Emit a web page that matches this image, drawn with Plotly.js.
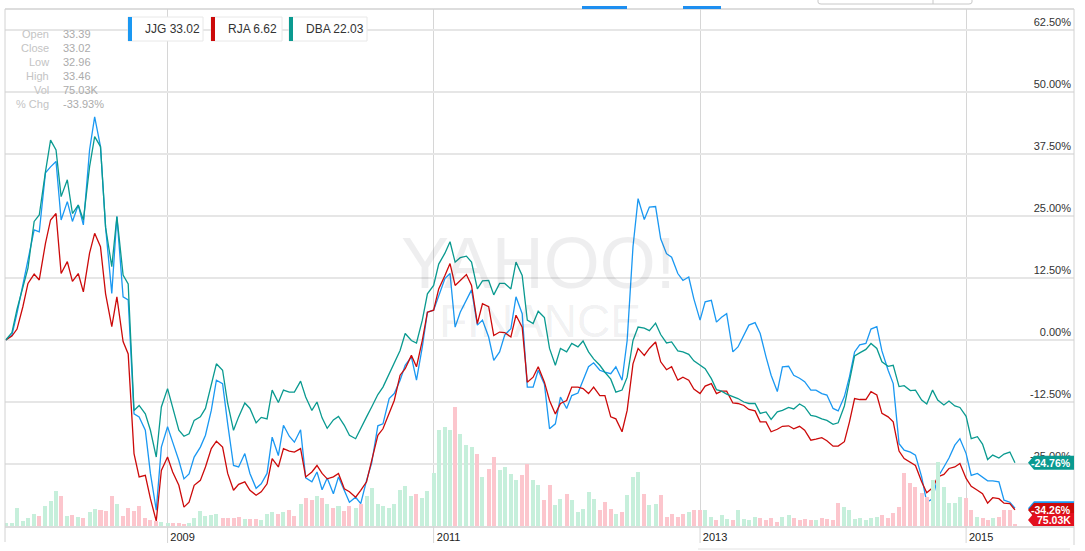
<!DOCTYPE html>
<html><head><meta charset="utf-8">
<script src="https://cdn.plot.ly/plotly-3.0.1.min.js"></script>
<style>html,body{margin:0;padding:0;background:#fff;}#chart{width:1085px;height:551px;}</style>
</head><body><div id="chart"></div>
<script>
const dates = [
"2007-10-15","2007-11-01","2007-11-15","2007-12-01","2007-12-15",
"2008-01-01","2008-01-15","2008-02-01","2008-02-15","2008-03-01","2008-03-15","2008-04-01","2008-04-15","2008-05-01","2008-05-15","2008-06-01","2008-06-15","2008-07-01","2008-07-15","2008-08-01","2008-08-15","2008-09-01","2008-09-15","2008-10-01","2008-10-15","2008-11-01","2008-11-15","2008-12-01","2008-12-15",
"2009-01-01","2009-01-15","2009-02-01","2009-02-15","2009-03-01","2009-03-15","2009-04-01","2009-04-15","2009-05-01","2009-05-15","2009-06-01","2009-06-15","2009-07-01","2009-07-15","2009-08-01","2009-08-15","2009-09-01","2009-09-15","2009-10-01","2009-10-15","2009-11-01","2009-11-15","2009-12-01","2009-12-15",
"2010-01-01","2010-01-15","2010-02-01","2010-02-15","2010-03-01","2010-03-15","2010-04-01","2010-04-15","2010-05-01","2010-05-15","2010-06-01","2010-06-15","2010-07-01","2010-07-15","2010-08-01","2010-08-15","2010-09-01","2010-09-15","2010-10-01","2010-10-15","2010-11-01","2010-11-15","2010-12-01","2010-12-15",
"2011-01-01","2011-01-15","2011-02-01","2011-02-15","2011-03-01","2011-03-15","2011-04-01","2011-04-15","2011-05-01","2011-05-15","2011-06-01","2011-06-15","2011-07-01","2011-07-15","2011-08-01","2011-08-15","2011-09-01","2011-09-15","2011-10-01","2011-10-15","2011-11-01","2011-11-15","2011-12-01","2011-12-15",
"2012-01-01","2012-01-15","2012-02-01","2012-02-15","2012-03-01","2012-03-15","2012-04-01","2012-04-15","2012-05-01","2012-05-15","2012-06-01","2012-06-15","2012-07-01","2012-07-15","2012-08-01","2012-08-15","2012-09-01","2012-09-15","2012-10-01","2012-10-15","2012-11-01","2012-11-15","2012-12-01","2012-12-15",
"2013-01-01","2013-01-15","2013-02-01","2013-02-15","2013-03-01","2013-03-15","2013-04-01","2013-04-15","2013-05-01","2013-05-15","2013-06-01","2013-06-15","2013-07-01","2013-07-15","2013-08-01","2013-08-15","2013-09-01","2013-09-15","2013-10-01","2013-10-15","2013-11-01","2013-11-15","2013-12-01","2013-12-15",
"2014-01-01","2014-01-15","2014-02-01","2014-02-15","2014-03-01","2014-03-15","2014-04-01","2014-04-15","2014-05-01","2014-05-15","2014-06-01","2014-06-15","2014-07-01","2014-07-15","2014-08-01","2014-08-15","2014-09-01","2014-09-15","2014-10-01","2014-10-15","2014-11-01","2014-11-15","2014-12-01","2014-12-15",
"2015-01-01","2015-01-15","2015-02-01","2015-02-15","2015-03-01","2015-03-15","2015-04-01","2015-04-15","2015-05-01","2015-05-15"];

// % change since start
const jjg = [
0.0,1.0,5.4,11.1,16.3,22.2,21.8,33.7,34.9,36.0,
24.2,27.9,23.9,27.2,23.2,38.3,45.0,39.0,22.7,9.4,
24.9,8.7,8.1,-14.9,-15.5,-18.2,-26.9,-34.3,-21.6,-17.5,
-20.6,-24.3,-28.0,-27.0,-23.6,-21.6,-19.2,-14.2,-8.1,-8.8,
-16.9,-25.3,-25.6,-22.9,-26.9,-29.9,-29.0,-26.9,-19.6,-23.3,
-17.2,-19.4,-20.6,-18.1,-27.8,-28.6,-26.6,-30.2,-27.8,-31.0,
-27.6,-30.3,-32.7,-31.7,-33.0,-28.3,-24.8,-17.3,-16.9,-11.8,
-10.8,-8.1,-5.1,-3.4,-8.1,-1.4,5.6,6.0,9.0,12.4,
13.4,2.6,5.6,8.1,10.1,3.0,4.0,0.6,-4.1,-2.4,
1.0,2.3,8.7,5.3,-9.5,-9.5,-6.1,-8.9,-17.9,-16.9,
-11.5,-13.8,-11.2,-10.7,-8.1,-5.4,-4.6,-6.1,-6.5,-6.8,
-5.4,-8.1,-0.1,18.8,28.5,24.3,26.8,26.9,20.4,17.4,
16.7,13.4,12.0,12.7,8.3,4.0,7.7,8.0,3.6,4.6,
5.3,-2.4,-1.4,0.9,3.0,3.5,1.3,-3.4,-7.1,-10.4,
-5.4,-5.3,-7.1,-7.7,-8.4,-10.1,-10.1,-10.8,-11.1,-13.8,
-14.3,-11.4,-7.4,-2.4,-1.0,-0.7,2.2,2.7,-2.2,-6.1,
-8.8,-20.9,-22.2,-22.6,-23.2,-27.6,-32.7,-32.0,-27.7,-25.6,
-23.8,-21.2,-19.9,-22.9,-27.3,-26.9,-27.6,-28.4,-28.4,-28.6,
-32.3,-32.7,-33.93];
const rja = [
0.0,0.8,2.2,6.7,11.4,13.3,12.1,19.5,24.2,25.5,
13.4,15.8,11.8,13.4,9.7,17.5,21.5,18.8,9.3,2.7,
8.7,-0.3,-2.8,-22.9,-27.6,-27.3,-32.0,-36.5,-26.3,-23.6,
-26.6,-29.3,-33.7,-32.7,-29.3,-28.3,-25.6,-21.9,-20.4,-21.6,
-26.9,-30.3,-29.1,-28.6,-30.3,-31.3,-30.6,-29.0,-23.9,-25.6,
-21.9,-22.4,-22.6,-21.9,-27.6,-26.6,-25.3,-26.9,-28.0,-27.6,
-26.9,-30.0,-30.6,-31.7,-30.3,-28.6,-24.3,-19.2,-17.9,-14.9,
-12.2,-7.1,-5.8,-3.1,-5.4,-0.1,5.6,6.0,10.3,13.0,
15.4,11.0,12.0,13.2,11.0,3.3,7.3,6.7,0.9,1.6,
1.5,0.6,5.0,2.6,-8.5,-7.5,-5.4,-8.5,-12.2,-14.9,
-12.8,-12.2,-9.5,-9.5,-9.8,-10.8,-9.5,-11.2,-11.2,-15.5,
-15.9,-18.5,-14.2,-4.8,-1.7,-3.1,-1.7,-0.4,-4.4,-6.0,
-5.4,-8.1,-7.5,-8.1,-9.9,-10.8,-9.3,-8.8,-10.8,-10.3,
-10.3,-12.7,-12.8,-13.2,-14.0,-14.3,-16.5,-16.5,-18.5,-18.0,
-17.4,-17.3,-17.9,-17.4,-18.2,-20.2,-20.0,-19.7,-20.3,-21.4,
-21.4,-20.5,-16.5,-11.8,-12.0,-12.0,-10.4,-11.1,-14.8,-15.5,
-16.5,-22.4,-23.9,-24.6,-25.3,-28.6,-30.8,-29.8,-27.6,-27.1,
-25.9,-25.6,-24.9,-27.9,-29.5,-30.3,-31.0,-32.9,-31.8,-32.0,
-32.9,-33.0,-34.26];
const dba = [
0.0,1.5,6.2,10.8,14.5,23.9,25.2,33.9,40.3,38.3,
28.9,32.3,25.5,27.2,24.2,34.9,41.0,39.0,22.7,14.8,
24.9,13.1,11.3,-14.2,-13.2,-14.9,-18.2,-23.6,-13.5,-9.8,
-13.8,-18.2,-19.4,-18.9,-16.2,-15.5,-13.8,-8.8,-4.8,-6.1,
-12.8,-18.2,-15.5,-12.7,-13.8,-16.7,-15.6,-15.9,-10.1,-12.6,
-10.1,-10.5,-10.5,-8.3,-11.5,-14.2,-12.5,-15.7,-17.8,-16.1,
-15.4,-17.2,-19.2,-19.9,-17.7,-15.5,-13.5,-11.0,-9.5,-6.9,
-4.8,-2.1,1.3,-0.1,-0.6,4.0,9.3,11.0,15.3,17.5,
19.8,15.7,16.6,16.9,15.7,10.3,11.9,12.0,9.1,11.4,
11.4,10.3,15.7,13.0,4.0,3.3,5.8,4.5,-1.7,-5.1,
-1.7,-2.4,-0.7,-1.4,-0.2,-2.4,-3.8,-5.1,-6.5,-7.9,
-10.5,-10.1,-7.5,-0.1,2.6,2.4,1.9,3.4,1.1,-0.6,
-0.4,-2.2,-2.4,-2.9,-4.2,-5.1,-5.8,-7.8,-10.0,-10.3,
-10.9,-11.4,-11.8,-12.5,-12.8,-12.8,-14.8,-14.5,-16.0,-14.5,
-14.2,-13.6,-13.9,-12.9,-13.5,-15.2,-15.4,-15.9,-16.2,-17.0,
-16.7,-13.3,-7.9,-3.2,-2.6,-1.9,-0.7,-1.7,-4.4,-5.3,
-5.1,-9.4,-9.2,-10.2,-10.1,-12.1,-12.9,-10.1,-12.1,-13.1,
-12.3,-13.3,-13.6,-15.4,-19.9,-19.5,-21.0,-24.1,-23.2,-23.8,
-23.0,-22.6,-24.76];
// JJG volume, thousands
const volumeK = [
120,120,720,200,320,480,400,800,1000,1400,
1200,400,440,360,320,560,680,640,600,1200,
880,400,720,600,800,320,240,200,160,120,
120,120,80,120,320,600,400,440,480,320,
320,320,360,280,280,280,240,480,560,480,
560,640,400,880,1120,1040,1200,1120,880,720,
800,600,800,720,880,1200,1520,880,800,720,
880,1440,1600,1200,1280,1120,1400,2120,3840,3960,
3840,4760,3680,3240,3160,2880,1960,2280,2760,2240,
2360,2080,1840,2040,2480,1840,1640,1040,1640,840,
1080,1280,1040,560,680,1360,1080,640,960,680,
480,560,1240,1960,2160,1280,840,880,1240,360,
480,360,480,560,640,640,640,360,240,440,
280,240,640,280,240,360,320,240,320,160,
360,440,320,240,280,240,240,320,280,240,
920,760,640,280,320,240,320,360,440,320,
520,760,2120,1720,1560,1320,1160,1840,2560,1560,
920,920,1160,1120,640,360,320,240,320,360,
640,640,75.03];

const tickers = ["JJG","RJA","DBA"];
const lastPrices = ["33.02","6.62","22.03"];
const seriesColors = ["#1a98f2","#cc0a0a","#0a9a90"];
const lastPct = [-33.93,-34.26,-24.76];
const panelLabels = ["Open","Close","Low","High","Vol","% Chg"];
const panelValues = ["33.39","33.02","32.96","33.46","75.03K","-33.93%"];
const yearTicks = ["2009-01-01","2011-01-01","2013-01-01","2015-01-01"];
const yearLabels = ["2009","2011","2013","2015"];
const yTicks = [-25,-12.5,0,12.5,25,37.5,50,62.5];
const yTickText = ["-25.00%","-12.50%","0.00%","12.50%","25.00%","37.50%","50.00%","62.50%"];

// pixel helpers for decorations (plot area: x 5..1074, y 9..526)
const PL=5, PR=1074, PT=9, PB=526;
const xp = X => (X-PL)/(PR-PL);
const yp = Y => (PB-Y)/(PB-PT);
const YMIN=-37.5, YMAX=66.73;
const pxPerUnit = (PB-PT)/(YMAX-YMIN);

const volColors = volumeK.map((v,i)=> (i===0 || jjg[i]>=jjg[i-1]) ? "#c6efdb" : "#fcc6cd");

const traces = [
 {type:"bar", x:dates, y:volumeK, yaxis:"y2", marker:{color:volColors, line:{width:0}}, width:11*86400000, hoverinfo:"skip"},
 {type:"scatter", mode:"lines", x:dates, y:jjg, name:"JJG", line:{color:seriesColors[0], width:1.3}},
 {type:"scatter", mode:"lines", x:dates, y:rja, name:"RJA", line:{color:seriesColors[1], width:1.3}},
 {type:"scatter", mode:"lines", x:dates, y:dba, name:"DBA", line:{color:seriesColors[2], width:1.3}}
];

const shapes = [];
const annotations = [];
const F = "Liberation Sans, Arial, sans-serif";

// frame
shapes.push({type:"line", xref:"paper", yref:"paper", x0:0, x1:0, y0:yp(542), y1:1, line:{color:"#d2d2d2", width:1}});
shapes.push({type:"line", xref:"paper", yref:"paper", x0:0, x1:1, y0:1, y1:1, line:{color:"#d2d2d2", width:1.5}});
shapes.push({type:"line", xref:"paper", yref:"paper", x0:1, x1:1, y0:yp(545), y1:1, line:{color:"#d2d2d2", width:1}});
shapes.push({type:"line", xref:"paper", yref:"paper", x0:xp(698), x1:xp(1070), y0:yp(549), y1:yp(549), line:{color:"#e2e2e2", width:1}});
// year gridline extensions under axis
yearTicks.forEach(t=>shapes.push({type:"line", xref:"x", yref:"paper", x0:t, x1:t, y0:yp(543), y1:0, line:{color:"#d6d6d6", width:1}}));
// top tab markers
shapes.push({type:"rect", xref:"paper", yref:"paper", x0:xp(582), x1:xp(627), y0:yp(9), y1:yp(6), fillcolor:"#1e8ff0", line:{width:0}});
shapes.push({type:"rect", xref:"paper", yref:"paper", x0:xp(683), x1:xp(721), y0:yp(9), y1:yp(6), fillcolor:"#1e8ff0", line:{width:0}});
shapes.push({type:"path", xref:"paper", yref:"paper", path:`M ${xp(818)},${yp(-2)} L ${xp(818)},${yp(2)} Q ${xp(818)},${yp(4)} ${xp(821)},${yp(4)} L ${xp(969)},${yp(4)} Q ${xp(972)},${yp(4)} ${xp(972)},${yp(2)} L ${xp(972)},${yp(-2)}`, line:{color:"#c8c8c8", width:1}});
shapes.push({type:"line", xref:"paper", yref:"paper", x0:xp(933), x1:xp(933), y0:yp(4), y1:yp(0), line:{color:"#c8c8c8", width:1}});

// legend boxes
const legBoxes = [[128,203],[211,282],[289,367]];
legBoxes.forEach((b,i)=>{
  shapes.push({type:"rect", xref:"paper", yref:"paper", x0:xp(b[0]), x1:xp(b[1]), y0:yp(41), y1:yp(17), fillcolor:"#ffffff", line:{color:"#e8e8e8", width:1}});
  shapes.push({type:"rect", xref:"paper", yref:"paper", x0:xp(b[0]), x1:xp(b[0]+4), y0:yp(41), y1:yp(17), fillcolor:seriesColors[i], line:{width:0}});
  annotations.push({xref:"paper", yref:"paper", x:xp(b[0]+15), y:yp(29), xanchor:"left", yanchor:"middle", showarrow:false,
    text:tickers[i]+" "+lastPrices[i], font:{family:F, size:12, color:"#333"}});
});

// info panel
panelLabels.forEach((l,i)=>{
  const Y = 34 + i*14;
  annotations.push({xref:"paper", yref:"paper", x:xp(51), y:yp(Y), xanchor:"right", yanchor:"middle", showarrow:false, text:l, font:{family:F, size:11, color:"#c4c4c4"}});
  annotations.push({xref:"paper", yref:"paper", x:xp(61), y:yp(Y), xanchor:"left", yanchor:"middle", showarrow:false, text:panelValues[i], font:{family:F, size:11, color:"#ababab"}});
});

// watermark
annotations.push({xref:"paper", yref:"paper", x:xp(538), y:yp(263), xanchor:"center", yanchor:"middle", showarrow:false, text:"YAHOO!",
  font:{family:"Liberation Sans Narrow, Liberation Sans, Arial, sans-serif", size:72, color:"rgba(60,60,70,0.085)"}});
annotations.push({xref:"paper", yref:"paper", x:xp(540), y:yp(321), xanchor:"center", yanchor:"middle", showarrow:false, text:"FINANCE",
  font:{family:F, size:46, color:"rgba(60,60,70,0.085)"}});

// value tags on right edge
function tag(yc, color, text){
  const h = 7/pxPerUnit;
  shapes.push({type:"path", xref:"paper", yref:"y",
    path:`M ${xp(1028)},${yc} L ${xp(1034)},${yc+h} L ${xp(1074)},${yc+h} L ${xp(1074)},${yc-h} L ${xp(1034)},${yc-h} Z`,
    fillcolor:color, line:{width:0}});
  if(text) annotations.push({xref:"paper", yref:"y", x:xp(1073), y:yc, xanchor:"right", yanchor:"middle", showarrow:false,
    text:"<b>"+text+"</b>", font:{family:F, size:10.5, color:"#ffffff"}});
}
tag(lastPct[2], seriesColors[2], lastPct[2].toFixed(2)+"%");
tag(lastPct[0], seriesColors[0], null);
tag(lastPct[1], seriesColors[1], lastPct[1].toFixed(2)+"%");
tag(YMIN + (PB-520)/pxPerUnit, "#e3101e", volumeK[volumeK.length-1].toFixed(2)+"K");

const layout = {
  width:1085, height:551,
  margin:{l:PL, r:1085-PR, t:PT, b:551-PB, pad:0},
  paper_bgcolor:"#ffffff", plot_bgcolor:"#ffffff",
  showlegend:false,
  font:{family:F},
  xaxis:{type:"date", range:["2007-10-13","2015-10-24"], tickvals:yearTicks, ticktext:yearLabels,
    showgrid:true, gridcolor:"#d6d6d6", gridwidth:1, zeroline:false,
    showline:true, linecolor:"#dcdcdc", linewidth:2, ticks:"",
    tickfont:{family:F, size:11, color:"#222"}, ticklabelshift:15, fixedrange:true},
  yaxis:{range:[YMIN,YMAX], side:"right", tickvals:yTicks, ticktext:yTickText, ticklabelposition:"inside top",
    showgrid:true, gridcolor:"#e6e6e6", gridwidth:2, zeroline:false, showline:false, ticks:"",
    tickfont:{family:F, size:11, color:"#333"}, fixedrange:true},
  yaxis2:{overlaying:"y", range:[0,(PB-PT)*40], visible:false, fixedrange:true},
  bargap:0,
  shapes:shapes, annotations:annotations
};
Plotly.newPlot("chart", traces, layout, {displayModeBar:false, staticPlot:true});
</script></body></html>
